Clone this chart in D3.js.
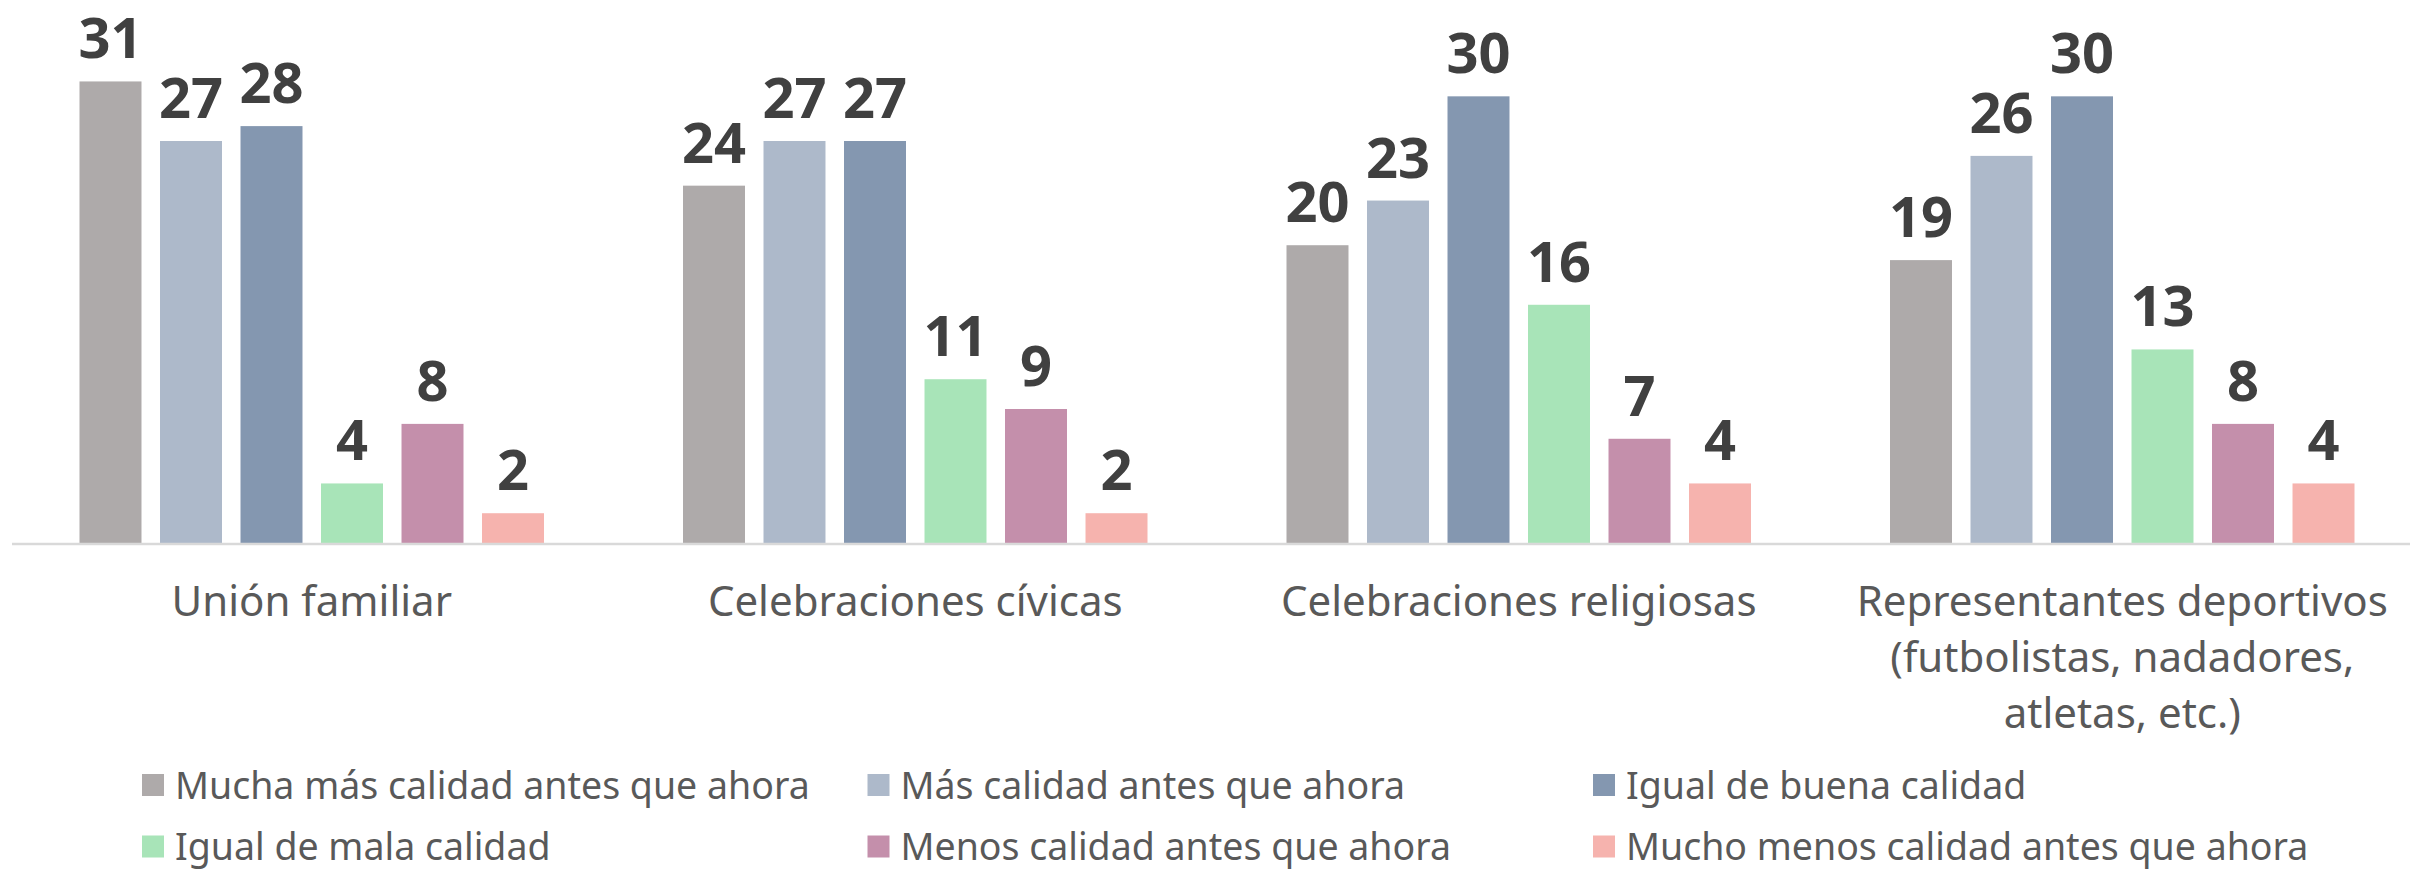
<!DOCTYPE html>
<html>
<head>
<meta http-equiv="Content-type" content="text/html; charset=utf-8">
<title>Calidad antes que ahora</title>
<script src="https://cdn.jsdelivr.net/npm/d3@7"></script>
<style>
  body { margin: 0; background: #ffffff; }
  text { font-family: "Segoe UI", "Noto Sans", sans-serif; }
</style>
</head>
<body>
<script type="text/javascript">

// categories (x groups), split into the lines shown under the axis
var categories = ["Unión familiar", "Celebraciones cívicas", "Celebraciones religiosas", "Representantes deportivos"];
var categoryLines = [
  ["Unión familiar"],
  ["Celebraciones cívicas"],
  ["Celebraciones religiosas"],
  ["Representantes deportivos", "(futbolistas, nadadores,", "atletas, etc.)"]
];

// series names, in legend order
var seriesNames = [
  "Mucha más calidad antes que ahora",
  "Más calidad antes que ahora",
  "Igual de buena calidad",
  "Igual de mala calidad",
  "Menos calidad antes que ahora",
  "Mucho menos calidad antes que ahora"
];

// values per series, one per category
var muchaMas   = [31, 24, 20, 19];
var mas        = [27, 27, 23, 26];
var igualBuena = [28, 27, 30, 30];
var igualMala  = [4, 11, 16, 13];
var menos      = [8, 9, 7, 8];
var muchoMenos = [2, 2, 4, 4];

var seriesValues = [muchaMas, mas, igualBuena, igualMala, menos, muchoMenos];

var colors = ["#AEAAAA", "#ADB9CA", "#8497B0", "#A8E4B8", "#C48FAB", "#F6B3AE"];

var W = 2410, H = 870;
var baseY = 543;

var svg = d3.select("body").append("svg")
  .attr("width", W)
  .attr("height", H);

// group scale and series scale inside each group
var x0 = d3.scaleBand()
  .domain(categories)
  .range([10, 2424])
  .paddingInner(0)
  .paddingOuter(0);

var x1 = d3.scaleBand()
  .domain(seriesNames)
  .range([69.5, x0.bandwidth() - 69.5])
  .paddingInner(0.23)
  .paddingOuter(0);

var y = d3.scaleLinear()
  .domain([0, 36.47])
  .range([baseY, 0]);

// flatten into one row per bar
var rows = [];
categories.forEach(function (c, ci) {
  seriesNames.forEach(function (s, si) {
    rows.push({cat: c, series: s, value: seriesValues[si][ci], color: colors[si]});
  });
});

svg.selectAll(".bar")
  .data(rows)
  .enter().append("rect")
  .attr("class", "bar")
  .attr("x", function (d) { return x0(d.cat) + x1(d.series); })
  .attr("y", function (d) { return y(d.value); })
  .attr("width", x1.bandwidth())
  .attr("height", function (d) { return baseY - y(d.value); })
  .attr("fill", function (d) { return d.color; });

// value labels
svg.selectAll(".val")
  .data(rows)
  .enter().append("text")
  .attr("class", "val")
  .attr("x", function (d) { return x0(d.cat) + x1(d.series) + x1.bandwidth() / 2; })
  .attr("y", function (d) { return y(d.value) - 23; })
  .attr("text-anchor", "middle")
  .style("font-size", "56px")
  .style("font-weight", "bold")
  .style("fill", "#404040")
  .text(function (d) { return d.value; });

// baseline
svg.append("line")
  .attr("x1", 12).attr("x2", W)
  .attr("y1", baseY + 1).attr("y2", baseY + 1)
  .attr("stroke", "#D9D9D9")
  .attr("stroke-width", 2.5);

// category labels
var catG = svg.selectAll(".cat")
  .data(categories)
  .enter().append("text")
  .attr("class", "cat")
  .attr("text-anchor", "middle")
  .attr("transform", function (d) { return "translate(" + (x0(d) + x0.bandwidth() / 2) + ",0)"; })
  .style("font-size", "42px")
  .style("fill", "#595959");

catG.selectAll("tspan")
  .data(function (d, i) { return categoryLines[i]; })
  .enter().append("tspan")
  .attr("x", 0)
  .attr("y", function (d, i) { return 616 + i * 56; })
  .text(function (d) { return d; });

// legend, 3 columns x 2 rows
var leg = svg.selectAll(".leg")
  .data(seriesNames)
  .enter().append("g")
  .attr("class", "leg")
  .attr("transform", function (d, i) { return "translate(" + (142 + (i % 3) * 725.5) + "," + (785 + Math.floor(i / 3) * 61.5) + ")"; });

leg.append("rect")
  .attr("x", 0).attr("y", -11)
  .attr("width", 22).attr("height", 22)
  .attr("fill", function (d, i) { return colors[i]; });

leg.append("text")
  .attr("x", 33)
  .attr("y", 13.5)
  .style("font-size", "37.5px")
  .style("fill", "#595959")
  .text(function (d) { return d; });

</script>
</body>
</html>
